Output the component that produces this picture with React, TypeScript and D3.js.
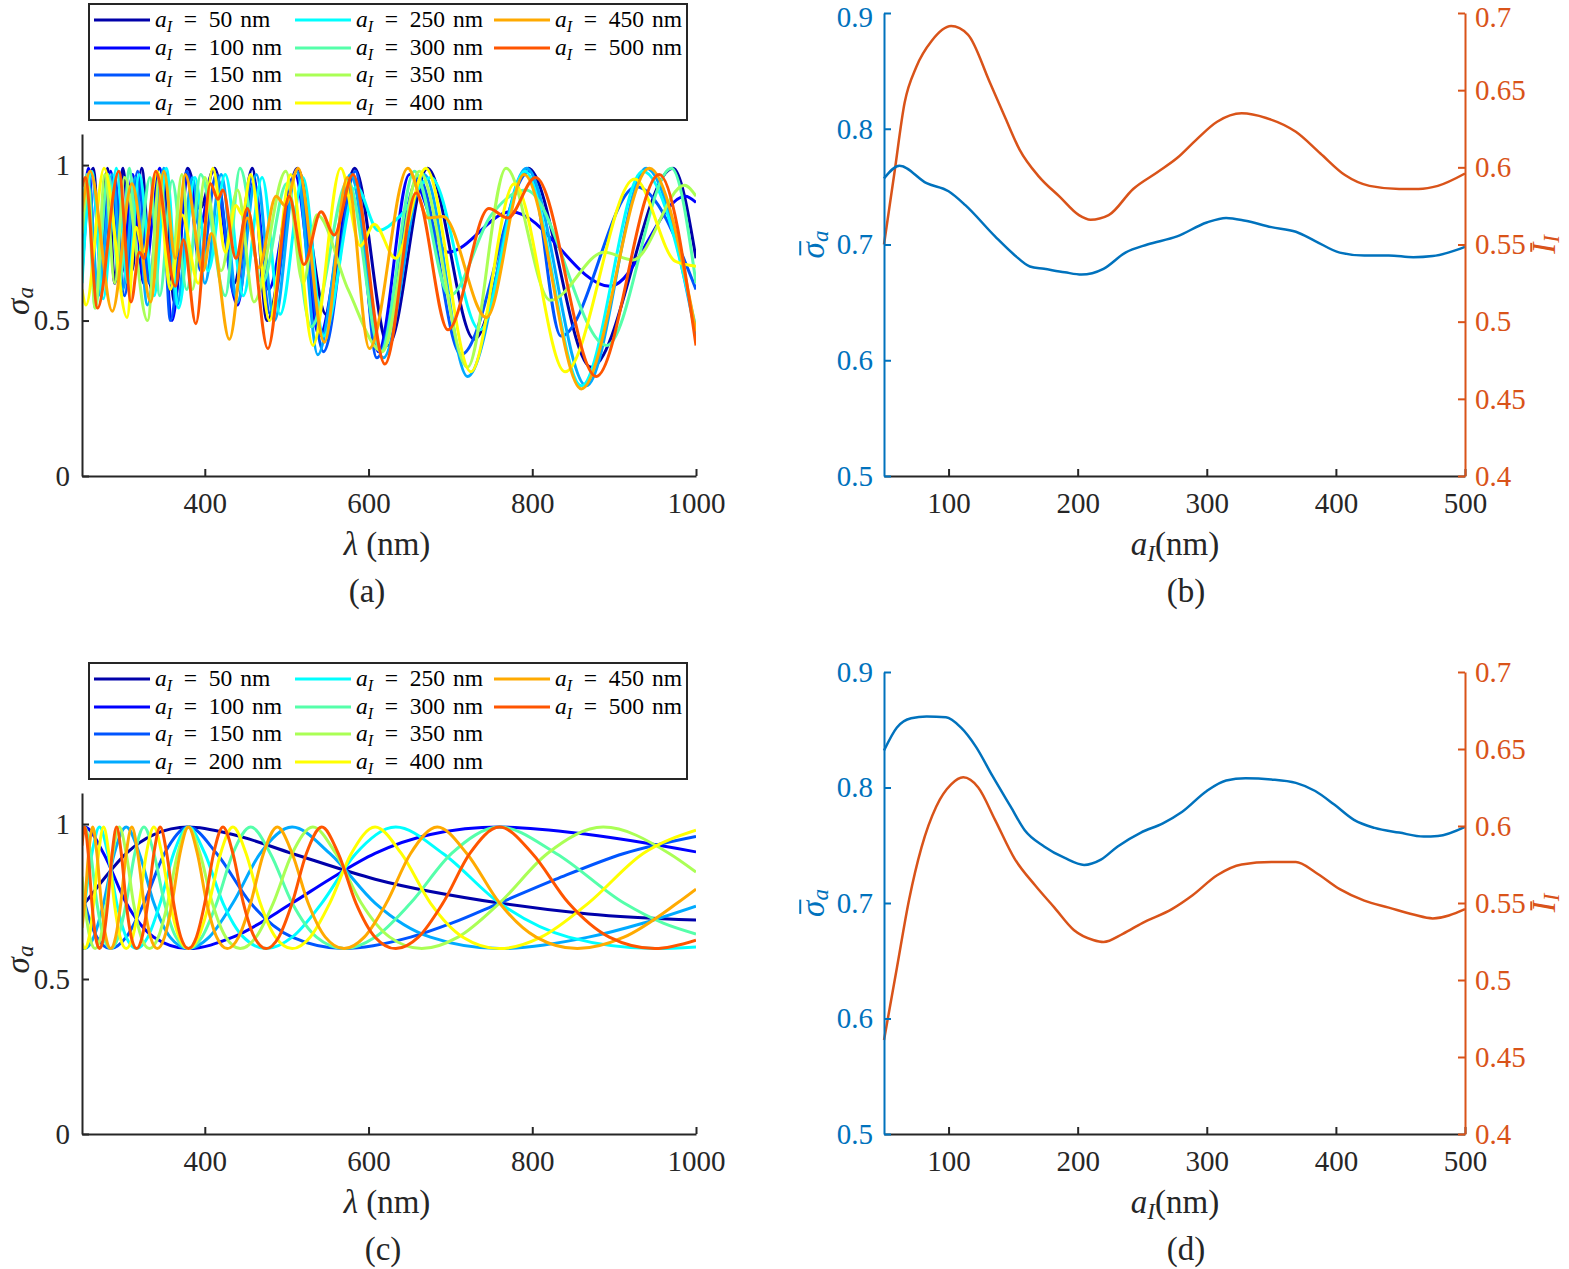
import { useEffect, useRef } from 'react';
import * as d3 from 'd3';

type Pt = [number, number];

const FONT = "'Liberation Serif', 'Times New Roman', serif";

const sizesNm = [50, 100, 150, 200, 250, 300, 350, 400, 450, 500];
const jetColors = ['#0000aa', '#0000ff', '#0055ff', '#00aaff', '#00ffff', '#55ffaa', '#aaff55', '#ffff00', '#ffaa00', '#ff5500'];
const lambdaTicks = [400, 600, 800, 1000];
const sigmaTicks = [0, 0.5, 1];
const sizeTicks = [100, 200, 300, 400, 500];
const meanSigmaTicks = [0.5, 0.6, 0.7, 0.8, 0.9];
const meanIntensityTicks = [0.4, 0.45, 0.5, 0.55, 0.6, 0.65, 0.7];

// (a) spectra, [lambda nm, sigma_a], read at the turning points of each curve
const specA_50: Pt[] = [[250, 0.8], [264, 0.99], [272, 0.72], [281, 0.99], [290, 0.62], [300, 0.99], [311, 0.66], [323, 0.99], [335, 0.6], [349, 0.98], [363, 0.56], [379, 0.99], [394, 0.86], [412, 0.99], [436, 0.62], [458, 0.99], [476, 0.5], [513, 0.99], [548, 0.52], [583, 0.99], [624, 0.42], [672, 0.99], [729, 0.44], [795, 0.99], [872, 0.35], [972, 0.99], [1000, 0.7]];
const specA_100: Pt[] = [[250, 0.7], [258, 0.99], [268, 0.6], [285, 0.98], [298, 0.65], [312, 0.97], [325, 0.62], [345, 0.99], [360, 0.5], [380, 0.97], [394, 0.8], [410, 0.98], [440, 0.55], [460, 0.95], [478, 0.6], [510, 0.97], [540, 0.45], [580, 0.96], [612, 0.4], [650, 0.97], [697, 0.72], [774, 0.85], [895, 0.61], [987, 0.9], [1000, 0.88]];
const specA_150: Pt[] = [[250, 0.65], [262, 0.97], [275, 0.62], [290, 0.96], [302, 0.58], [318, 0.98], [332, 0.62], [347, 0.97], [358, 0.5], [378, 0.98], [395, 0.66], [414, 0.97], [437, 0.58], [458, 0.96], [480, 0.52], [512, 0.98], [545, 0.4], [584, 0.98], [610, 0.38], [661, 0.96], [713, 0.39], [797, 0.98], [835, 0.45], [927, 0.93], [1000, 0.6]];
const specA_200: Pt[] = [[250, 0.68], [258, 0.95], [270, 0.58], [287, 0.97], [300, 0.6], [315, 0.96], [330, 0.55], [350, 0.99], [366, 0.55], [385, 0.96], [400, 0.62], [420, 0.97], [440, 0.56], [463, 0.97], [485, 0.5], [512, 0.98], [538, 0.39], [578, 0.97], [618, 0.38], [668, 0.97], [721, 0.32], [793, 0.99], [866, 0.29], [939, 0.99], [1000, 0.45]];
const specA_250: Pt[] = [[250, 0.62], [262, 0.98], [276, 0.57], [292, 0.99], [306, 0.62], [320, 0.97], [338, 0.58], [353, 0.99], [368, 0.54], [388, 0.96], [404, 0.66], [425, 0.97], [447, 0.58], [470, 0.96], [492, 0.52], [520, 0.96], [545, 0.45], [585, 0.93], [612, 0.79], [640, 0.84], [676, 0.96], [736, 0.47], [791, 0.98], [860, 0.29], [935, 0.98], [1000, 0.475]];
const specA_300: Pt[] = [[250, 0.8], [256, 0.97], [266, 0.54], [282, 0.97], [296, 0.62], [308, 0.99], [318, 0.7], [333, 0.96], [345, 0.58], [360, 0.95], [378, 0.6], [395, 0.97], [425, 0.58], [443, 0.99], [470, 0.62], [500, 0.94], [530, 0.48], [575, 0.95], [615, 0.4], [656, 0.98], [699, 0.58], [750, 0.84], [792, 0.92], [891, 0.42], [970, 0.99], [1000, 0.62]];
const specA_350: Pt[] = [[250, 0.78], [258, 0.93], [266, 0.54], [278, 0.97], [290, 0.62], [302, 0.96], [330, 0.5], [345, 0.97], [358, 0.62], [372, 0.97], [385, 0.6], [400, 0.96], [420, 0.66], [440, 0.92], [460, 0.56], [499, 0.98], [520, 0.62], [537, 0.84], [575, 0.6], [617, 0.4], [662, 0.98], [721, 0.35], [768, 0.99], [822, 0.565], [888, 0.72], [923, 0.695], [986, 0.935], [1000, 0.9]];
const specA_400: Pt[] = [[250, 0.6], [255, 0.55], [277, 0.99], [305, 0.51], [316, 0.8], [325, 0.72], [342, 0.98], [358, 0.6], [372, 0.84], [392, 0.62], [410, 0.99], [425, 0.72], [438, 0.87], [446, 0.84], [456, 0.97], [479, 0.5], [505, 0.97], [532, 0.42], [566, 0.99], [590, 0.74], [607, 0.81], [633, 0.7], [670, 0.99], [725, 0.335], [778, 0.94], [840, 0.335], [925, 0.955], [975, 0.69], [1000, 0.675]];
const specA_450: Pt[] = [[250, 0.85], [260, 0.98], [287, 0.53], [311, 0.94], [334, 0.56], [350, 0.98], [364, 0.7], [376, 0.97], [398, 0.66], [408, 0.78], [430, 0.44], [452, 0.83], [466, 0.67], [487, 0.9], [498, 0.87], [514, 0.99], [546, 0.43], [574, 0.96], [601, 0.41], [648, 0.99], [673, 0.83], [691, 0.835], [744, 0.51], [790, 0.97], [860, 0.28], [943, 0.99], [1000, 0.465]];
const specA_500: Pt[] = [[250, 0.93], [254, 0.96], [269, 0.54], [295, 0.98], [310, 0.56], [320, 0.72], [326, 0.7], [340, 0.98], [364, 0.61], [374, 0.76], [389, 0.49], [407, 0.94], [416, 0.89], [422, 0.92], [438, 0.7], [452, 0.86], [477, 0.41], [503, 0.9], [521, 0.68], [542, 0.85], [558, 0.775], [581, 0.97], [620, 0.36], [658, 0.91], [697, 0.47], [747, 0.86], [770, 0.83], [804, 0.96], [878, 0.32], [955, 0.97], [1000, 0.42]];

// (c) spectra, [lambda nm, sigma_a]
const specC_50: Pt[] = [[250, 0.735], [253.3, 0.745], [276.4, 0.822], [304, 0.905], [337.8, 0.966], [380, 0.99], [434.3, 0.966], [506.7, 0.905], [608, 0.822], [760, 0.745], [868.6, 0.71], [1000, 0.69]];
const specC_100: Pt[] = [[250, 0.987], [253.3, 0.99], [276.4, 0.905], [304, 0.745], [337.8, 0.635], [380, 0.598], [434.3, 0.635], [506.7, 0.745], [552.7, 0.822], [608, 0.905], [675.6, 0.966], [760, 0.99], [868.6, 0.966], [1000, 0.91]];
const specC_150: Pt[] = [[250, 0.78], [253.3, 0.745], [268.2, 0.635], [285, 0.598], [304, 0.635], [325.7, 0.745], [350.8, 0.905], [380, 0.99], [414.5, 0.905], [456, 0.745], [506.7, 0.635], [570, 0.598], [651.4, 0.635], [701.5, 0.68], [760, 0.745], [829.1, 0.822], [912, 0.905], [1000, 0.96]];
const specC_200: Pt[] = [[250, 0.6], [253.3, 0.598], [264.3, 0.635], [276.4, 0.745], [289.5, 0.905], [304, 0.99], [320, 0.905], [337.8, 0.745], [357.6, 0.635], [380, 0.598], [405.3, 0.635], [434.3, 0.745], [467.7, 0.905], [506.7, 0.99], [552.7, 0.905], [608, 0.745], [675.6, 0.635], [760, 0.598], [868.6, 0.635], [935, 0.68], [1000, 0.735]];
const specC_250: Pt[] = [[250, 0.69], [253.3, 0.745], [262.1, 0.905], [271.4, 0.99], [281.5, 0.905], [292.3, 0.745], [304, 0.635], [316.7, 0.598], [330.4, 0.635], [345.5, 0.745], [361.9, 0.905], [380, 0.99], [400, 0.905], [422.2, 0.745], [447.1, 0.635], [475, 0.598], [506.7, 0.635], [542.9, 0.745], [584.6, 0.905], [633.3, 0.99], [690.9, 0.905], [760, 0.745], [844.4, 0.635], [950, 0.598], [1000, 0.603]];
const specC_300: Pt[] = [[250, 0.968], [253.3, 0.99], [260.6, 0.905], [268.2, 0.745], [276.4, 0.635], [285, 0.598], [294.2, 0.635], [304, 0.745], [314.5, 0.905], [325.7, 0.99], [337.8, 0.905], [350.8, 0.745], [364.8, 0.635], [380, 0.598], [396.5, 0.635], [414.5, 0.745], [434.3, 0.905], [456, 0.99], [480, 0.905], [506.7, 0.745], [536.5, 0.635], [570, 0.598], [608, 0.635], [651.4, 0.745], [701.5, 0.905], [760, 0.99], [829.1, 0.905], [912, 0.745], [960, 0.68], [1000, 0.645]];
const specC_350: Pt[] = [[250, 0.83], [253.3, 0.745], [259.5, 0.635], [266, 0.598], [272.8, 0.635], [280, 0.745], [287.6, 0.905], [295.6, 0.99], [304, 0.905], [312.9, 0.745], [322.4, 0.635], [332.5, 0.598], [343.2, 0.635], [354.7, 0.745], [366.9, 0.905], [380, 0.99], [394.1, 0.905], [409.2, 0.745], [425.6, 0.635], [443.3, 0.598], [462.6, 0.635], [483.6, 0.745], [506.7, 0.905], [532, 0.99], [560, 0.905], [591.1, 0.745], [625.9, 0.635], [665, 0.598], [709.3, 0.635], [760, 0.745], [818.5, 0.905], [886.7, 0.99], [967.3, 0.905], [1000, 0.845]];
const specC_400: Pt[] = [[250, 0.615], [253.3, 0.598], [258.7, 0.635], [264.3, 0.745], [270.2, 0.905], [276.4, 0.99], [282.8, 0.905], [289.5, 0.745], [296.6, 0.635], [304, 0.598], [311.8, 0.635], [320, 0.745], [328.6, 0.905], [337.8, 0.99], [347.4, 0.905], [357.6, 0.745], [368.5, 0.635], [380, 0.598], [392.3, 0.635], [405.3, 0.745], [419.3, 0.905], [434.3, 0.99], [450.4, 0.905], [467.7, 0.745], [486.4, 0.635], [506.7, 0.598], [528.7, 0.635], [552.7, 0.745], [579, 0.905], [608, 0.99], [640, 0.905], [675.6, 0.745], [715.3, 0.635], [760, 0.598], [810.7, 0.635], [868.6, 0.745], [935.4, 0.905], [1000, 0.98]];
const specC_450: Pt[] = [[250, 0.665], [253.3, 0.745], [258.1, 0.905], [263.1, 0.99], [268.2, 0.905], [273.6, 0.745], [279.2, 0.635], [285, 0.598], [291.1, 0.635], [297.4, 0.745], [304, 0.905], [310.9, 0.99], [318.1, 0.905], [325.7, 0.745], [333.7, 0.635], [342, 0.598], [350.8, 0.635], [360, 0.745], [369.7, 0.905], [380, 0.99], [390.9, 0.905], [402.4, 0.745], [414.5, 0.635], [427.5, 0.598], [441.3, 0.635], [456, 0.745], [471.7, 0.905], [488.6, 0.99], [506.7, 0.905], [526.2, 0.745], [547.2, 0.635], [570, 0.598], [594.8, 0.635], [621.8, 0.745], [651.4, 0.905], [684, 0.99], [720, 0.905], [760, 0.745], [804.7, 0.635], [855, 0.598], [912, 0.635], [977.1, 0.745], [1000, 0.79]];
const specC_500: Pt[] = [[250, 0.93], [253.3, 0.99], [257.6, 0.905], [262.1, 0.745], [266.7, 0.635], [271.4, 0.598], [276.4, 0.635], [281.5, 0.745], [286.8, 0.905], [292.3, 0.99], [298, 0.905], [304, 0.745], [310.2, 0.635], [316.7, 0.598], [323.4, 0.635], [330.4, 0.745], [337.8, 0.905], [345.5, 0.99], [353.5, 0.905], [361.9, 0.745], [370.7, 0.635], [380, 0.598], [389.7, 0.635], [400, 0.745], [410.8, 0.905], [422.2, 0.99], [434.3, 0.905], [447.1, 0.745], [460.6, 0.635], [475, 0.598], [490.3, 0.635], [506.7, 0.745], [524.1, 0.905], [542.9, 0.99], [563, 0.905], [584.6, 0.745], [608, 0.635], [633.3, 0.598], [660.9, 0.635], [690.9, 0.745], [723.8, 0.905], [760, 0.99], [800, 0.905], [844.4, 0.745], [894.1, 0.635], [950, 0.598], [1000, 0.625]];

// (b) means vs particle size, [a_I nm, value]
const meanSigmaB: Pt[] = [[50, 0.757], [62, 0.768], [83, 0.753], [100, 0.746], [113, 0.734], [136, 0.707], [151, 0.691], [163, 0.681], [174, 0.679], [190, 0.676], [203, 0.674], [220, 0.679], [237, 0.693], [254, 0.7], [277, 0.707], [300, 0.719], [315, 0.723], [330, 0.7205], [350, 0.715], [369, 0.711], [384, 0.703], [403, 0.693], [422, 0.6905], [441, 0.6905], [460, 0.689], [475, 0.69], [487, 0.693], [500, 0.698]];
const meanIntensityB: Pt[] = [[50, 0.55], [58, 0.596], [66, 0.642], [75, 0.665], [87, 0.682], [102, 0.6915], [115, 0.686], [132, 0.655], [144, 0.632], [155, 0.6115], [170, 0.594], [186, 0.581], [201, 0.569], [210, 0.566], [224, 0.569], [243, 0.586], [262, 0.597], [277, 0.606], [292, 0.618], [308, 0.6295], [327, 0.635], [346, 0.632], [369, 0.623], [388, 0.609], [407, 0.595], [426, 0.588], [449, 0.586], [464, 0.586], [479, 0.588], [500, 0.596]];

// (d)
const meanSigmaD: Pt[] = [[50, 0.832], [60, 0.852], [71, 0.86], [83, 0.8614], [98, 0.8608], [109.5, 0.852], [121, 0.8356], [134, 0.81], [148, 0.7836], [159, 0.763], [174, 0.749], [190, 0.739], [205, 0.733], [218, 0.7376], [231, 0.749], [249, 0.761], [266, 0.769], [281, 0.779], [300, 0.797], [315, 0.806], [330, 0.808], [350, 0.807], [369, 0.804], [384, 0.797], [399, 0.785], [414, 0.772], [430, 0.765], [449, 0.761], [468, 0.7575], [479, 0.758], [500, 0.766]];
const meanIntensityD: Pt[] = [[50, 0.461], [60, 0.508], [69.5, 0.5525], [79, 0.586], [90.5, 0.6127], [102, 0.627], [111.4, 0.6316], [123, 0.625], [136, 0.604], [151, 0.579], [167, 0.5615], [182, 0.547], [197, 0.5325], [212, 0.526], [220, 0.5247], [235, 0.53], [250, 0.537], [273, 0.546], [289, 0.555], [308, 0.568], [327, 0.575], [350, 0.5766], [369, 0.5766], [384, 0.57], [403, 0.559], [422, 0.5515], [441, 0.547], [460, 0.5425], [475, 0.54], [500, 0.546]];

const specA = [specA_50, specA_100, specA_150, specA_200, specA_250, specA_300, specA_350, specA_400, specA_450, specA_500];
const specC = [specC_50, specC_100, specC_150, specC_200, specC_250, specC_300, specC_350, specC_400, specC_450, specC_500];

const AXIS = '#262626';
const BLUE = '#0072BD';
const ORANGE = '#D95319';
const TICK_FS = 29;
const LABEL_FS = 33;

type G = d3.Selection<SVGGElement, unknown, null, undefined>;

function styleAxis(g: G, color: string) {
  g.attr('color', color).attr('font-family', FONT).attr('font-size', TICK_FS);
  g.selectAll('path.domain').attr('stroke-width', 2);
  g.selectAll('.tick line').attr('stroke-width', 2);
}

function rotatedLabel(root: G, x: number, y: number, color: string, main: string, sub: string, bar: boolean) {
  const g = root.append('g').attr('transform', `translate(${x},${y}) rotate(-90)`);
  const t = g.append('text')
    .attr('text-anchor', 'middle')
    .attr('font-family', FONT)
    .attr('font-size', LABEL_FS)
    .attr('fill', color);
  const m = t.append('tspan').attr('font-style', 'italic').text(main);
  t.append('tspan').attr('font-style', 'italic').attr('font-size', 23).attr('dy', 4).text(sub);
  if (bar) {
    const box = (t.node() as SVGTextElement).getBBox();
    const w = (m.node() as SVGTSpanElement).getComputedTextLength();
    g.append('line')
      .attr('x1', box.x + 3).attr('x2', box.x + w + 1)
      .attr('y1', -LABEL_FS * 0.72).attr('y2', -LABEL_FS * 0.72)
      .attr('stroke', color).attr('stroke-width', 2);
  }
}

function sizeLabel(root: G, x: number, y: number) {
  const t = root.append('text')
    .attr('x', x).attr('y', y)
    .attr('text-anchor', 'middle')
    .attr('font-family', FONT)
    .attr('font-size', LABEL_FS)
    .attr('fill', AXIS);
  t.append('tspan').attr('font-style', 'italic').text('a');
  t.append('tspan').attr('font-style', 'italic').attr('font-size', 23).attr('dy', 6).text('I');
  t.append('tspan').attr('dy', -6).text('(nm)');
}

function caption(root: G, x: number, y: number, s: string) {
  root.append('text')
    .attr('x', x).attr('y', y)
    .attr('text-anchor', 'middle')
    .attr('font-family', FONT)
    .attr('font-size', LABEL_FS)
    .attr('fill', AXIS)
    .text(s);
}

function legend(root: G, top: number) {
  const g = root.append('g');
  g.append('rect')
    .attr('x', 89).attr('y', top)
    .attr('width', 598).attr('height', 116)
    .attr('fill', '#fff').attr('stroke', AXIS).attr('stroke-width', 2);
  const cols = [94, 295, 494];
  const rows = [16, 44, 71, 99];
  sizesNm.forEach((s, i) => {
    const cx = cols[Math.floor(i / 4)];
    const cy = top + rows[i % 4];
    g.append('line')
      .attr('x1', cx).attr('x2', cx + 56)
      .attr('y1', cy).attr('y2', cy)
      .attr('stroke', jetColors[i]).attr('stroke-width', 3);
    const t = g.append('text')
      .attr('x', cx + 61).attr('y', cy + 7)
      .attr('font-family', FONT)
      .attr('font-size', 23.5)
      .attr('fill', '#000');
    t.append('tspan').attr('font-style', 'italic').text('a');
    t.append('tspan').attr('font-style', 'italic').attr('font-size', 16).attr('dy', 5).text('I');
    t.append('tspan').attr('dy', -5).text(`\u2002=\u2002${s}\u2004nm`);
  });
}

function spectrumPanel(root: G, series: Pt[][], top: number, bottom: number, legendTop: number, tag: string) {
  const x = d3.scaleLinear().domain([250, 1000]).range([82, 696]);
  const y = d3.scaleLinear().domain([0, 1.1]).range([bottom, top]);
  const clipId = `clip-${tag}`;
  root.append('clipPath').attr('id', clipId)
    .append('rect').attr('x', 82).attr('y', top).attr('width', 614).attr('height', bottom - top);

  const line = d3.line<Pt>().x((d) => x(d[0])).y((d) => y(d[1])).curve(d3.curveMonotoneX);
  root.append('g').attr('clip-path', `url(#${clipId})`)
    .selectAll('path')
    .data(series)
    .join('path')
    .attr('d', (d) => line(d))
    .attr('fill', 'none')
    .attr('stroke', (_, i) => jetColors[i])
    .attr('stroke-width', 3)
    .attr('stroke-linejoin', 'round');

  const gx = root.append('g').attr('transform', `translate(0,${bottom})`)
    .call(d3.axisBottom(x).tickValues(lambdaTicks).tickSize(-7).tickSizeOuter(0).tickPadding(16).tickFormat((d) => String(d)));
  styleAxis(gx, AXIS);
  const gy = root.append('g').attr('transform', 'translate(82,0)')
    .call(d3.axisLeft(y).tickValues(sigmaTicks).tickSize(-7).tickSizeOuter(0).tickPadding(12).tickFormat((d) => String(d)));
  styleAxis(gy, AXIS);

  legend(root, legendTop);

  rotatedLabel(root, 29, (top + bottom) / 2 - 4, AXIS, 'σ', 'a', false);
  const xl = root.append('text')
    .attr('x', 387).attr('y', bottom + 79)
    .attr('text-anchor', 'middle')
    .attr('font-family', FONT)
    .attr('font-size', LABEL_FS)
    .attr('fill', AXIS);
  xl.append('tspan').attr('font-style', 'italic').text('λ');
  xl.append('tspan').text(' (nm)');
  caption(root, 367 + (tag === 'c' ? 16 : 0), bottom + 126, `(${tag})`);
}

function meanPanel(root: G, sigma: Pt[], intensity: Pt[], top: number, bottom: number, tag: string) {
  const x = d3.scaleLinear().domain([50, 500]).range([884, 1465]);
  const yL = d3.scaleLinear().domain([0.5, 0.9]).range([bottom, top]);
  const yR = d3.scaleLinear().domain([0.4, 0.7]).range([bottom, top]);

  const gx = root.append('g').attr('transform', `translate(0,${bottom})`)
    .call(d3.axisBottom(x).tickValues(sizeTicks).tickSize(-7).tickSizeOuter(0).tickPadding(16).tickFormat((d) => String(d)));
  styleAxis(gx, AXIS);

  const lineL = d3.line<Pt>().x((d) => x(d[0])).y((d) => yL(d[1])).curve(d3.curveMonotoneX);
  const lineR = d3.line<Pt>().x((d) => x(d[0])).y((d) => yR(d[1])).curve(d3.curveMonotoneX);
  root.append('path').datum(intensity).attr('d', lineR)
    .attr('fill', 'none').attr('stroke', ORANGE).attr('stroke-width', 2.5);
  root.append('path').datum(sigma).attr('d', lineL)
    .attr('fill', 'none').attr('stroke', BLUE).attr('stroke-width', 2.5);

  const gl = root.append('g').attr('transform', 'translate(884,0)')
    .call(d3.axisLeft(yL).tickValues(meanSigmaTicks).tickSize(-7).tickSizeOuter(0).tickPadding(11).tickFormat((d) => String(d)));
  styleAxis(gl, BLUE);
  const gr = root.append('g').attr('transform', 'translate(1465,0)')
    .call(d3.axisRight(yR).tickValues(meanIntensityTicks).tickSize(-7).tickSizeOuter(0).tickPadding(10).tickFormat((d) => String(d)));
  styleAxis(gr, ORANGE);
  if (top < 20) {
    // keep the top tick labels inside the page
    gl.selectAll<SVGTextElement, number>('.tick text').filter((d) => d === 0.9).attr('dy', '0.46em');
    gr.selectAll<SVGTextElement, number>('.tick text').filter((d) => d === 0.7).attr('dy', '0.46em');
  }

  rotatedLabel(root, 824, (top + bottom) / 2, BLUE, 'σ', 'a', true);
  rotatedLabel(root, 1555, (top + bottom) / 2, ORANGE, 'I', 'I', true);
  sizeLabel(root, 1175, bottom + 79);
  caption(root, 1186, bottom + 126, `(${tag})`);
}

export default function App() {
  const ref = useRef<SVGSVGElement>(null);

  useEffect(() => {
    if (!ref.current) return;
    const svg = d3.select(ref.current);
    svg.selectAll('*').remove();
    const root = svg.append('g') as G;
    root.append('rect').attr('width', 1569).attr('height', 1269).attr('fill', '#fff');

    spectrumPanel(root, specA, 134, 476, 4, 'a');
    spectrumPanel(root, specC, 793, 1134, 663, 'c');
    meanPanel(root, meanSigmaB, meanIntensityB, 13, 476, 'b');
    meanPanel(root, meanSigmaD, meanIntensityD, 672, 1134, 'd');
  }, []);

  return (
    <svg
      ref={ref}
      width={1569}
      height={1269}
      style={{ position: 'absolute', left: 0, top: 0, display: 'block' }}
    />
  );
}
